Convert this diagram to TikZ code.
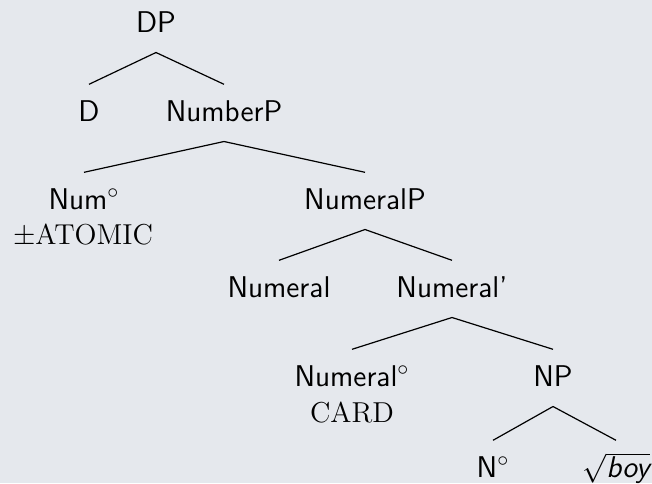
\documentclass[tikz,border=0pt]{standalone}
\renewcommand\familydefault{\sfdefault}
\definecolor{bgc}{RGB}{229,232,237}
\begin{document}
\begin{tikzpicture}[x=0.5pt,y=-0.5pt,
  lab/.style={anchor=base,inner sep=0pt,text height=10.4pt,text depth=0pt,font=\fontsize{15}{18}\selectfont},
  br/.style={line width=0.6pt,black}]
\fill[bgc] (0,0) rectangle (652,483);
\useasboundingbox (0,0) rectangle (652,483);
\begin{scope}
\clip (0,0) rectangle (652,483);
\node[lab] (DP) at (156,32) {DP};
\node[lab] (D) at (89,121) {D};
\node[lab] (NumberP) at (224,121) {NumberP};
\node[lab] (Num) at (84,209) {Num$^\circ$};
\node[lab] (atomic) at (83,244) {$\pm\mathrm{ATOMIC}$};
\node[lab] (NumeralP) at (365,209) {NumeralP};
\node[lab] (Numeral) at (279,297) {Numeral};
\node[lab] (Numeralbar) at (452,297) {Numeral'};
\node[lab] (Numeraldeg) at (352,386) {Numeral$^\circ$};
\node[lab] (card) at (352,422) {$\mathrm{CARD}$};
\node[lab] (NP) at (553,386) {NP};
\node[lab] (N) at (493,477) {N$^\circ$};
\node[lab] (boy) at (616,477) {$\sqrt{\hbox{\itshape boy}}$};
\foreach \p/\c in {DP/D,DP/NumberP,NumberP/Num,NumberP/NumeralP,NumeralP/Numeral,NumeralP/Numeralbar,Numeralbar/Numeraldeg,Numeralbar/NP,NP/N,NP/boy}
  \draw[br] ([yshift=-10.25pt]\p.base) -- ([yshift=7.75pt]\c.north);
\end{scope}
\end{tikzpicture}
\end{document}
